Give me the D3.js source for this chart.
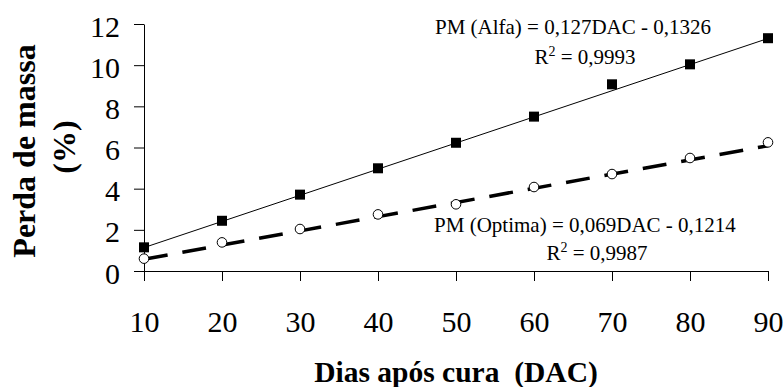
<!DOCTYPE html>
<html>
<head>
<meta charset="utf-8">
<script src="https://cdn.jsdelivr.net/npm/d3@7"></script>
</head>
<body style="margin:0">
<script>
// data
var dias = [10, 20, 30, 40, 50, 60, 70, 80, 90];
var alfa = [1.15, 2.44, 3.71, 4.99, 6.23, 7.50, 9.07, 10.04, 11.31];
var optima = [0.60, 1.39, 2.04, 2.75, 3.24, 4.08, 4.71, 5.49, 6.25];
// trend line coefficients (slope, intercept) as printed
var alfaFit = [0.127, -0.1326];
var optimaFit = [0.069, -0.1214];
var yTicks = [0, 2, 4, 6, 8, 10, 12];

var width = 784, height = 387;
var fontName = "Liberation Serif";

var svg = d3.select("body")
    .append("svg")
    .attr("width", width)
    .attr("height", height)
    .attr("font-family", fontName)
    .style("font-family", fontName);

var x = d3.scaleLinear().domain([10, 90]).range([144, 768]);
var y = d3.scaleLinear().domain([0, 12]).range([271, 24]);

// x axis
var xAxis = svg.append("g")
    .attr("transform", "translate(0," + y(0) + ")")
    .call(d3.axisBottom(x).tickValues(dias).tickSize(10).tickSizeOuter(0));
xAxis.selectAll("text")
    .attr("y", 61).attr("dy", 0);

// y axis
var yAxis = svg.append("g")
    .attr("transform", "translate(" + x(10) + ",0)")
    .call(d3.axisLeft(y).tickValues(yTicks).tickSize(10).tickSizeOuter(0).tickPadding(14));
yAxis.selectAll("text")
    .attr("dy", "0.4em");

xAxis.attr("font-family", fontName).attr("font-size", 30);
yAxis.attr("font-family", fontName).attr("font-size", 30);
svg.selectAll(".tick text").attr("fill", "#000");
svg.selectAll(".domain, .tick line").attr("stroke", "#000").attr("stroke-width", 1);

// trend lines
function fitLine(c) {
    return [[10, c[0] * 10 + c[1]], [90, c[0] * 90 + c[1]]];
}
var line = d3.line().x(function(d) { return x(d[0]); }).y(function(d) { return y(d[1]); });

svg.append("path")
    .datum(fitLine(alfaFit))
    .attr("d", line)
    .attr("fill", "none")
    .attr("stroke", "#000")
    .attr("stroke-width", 1);

svg.append("path")
    .datum(fitLine(optimaFit))
    .attr("d", line)
    .attr("fill", "none")
    .attr("stroke", "#000")
    .attr("stroke-width", 3.5)
    .attr("stroke-dasharray", "24,15");

// markers
svg.append("g").selectAll("rect")
    .data(dias)
    .enter().append("rect")
    .attr("x", function(d) { return x(d) - 5; })
    .attr("y", function(d, i) { return y(alfa[i]) - 5; })
    .attr("width", 10)
    .attr("height", 10)
    .attr("fill", "#000");

svg.append("g").selectAll("circle")
    .data(dias)
    .enter().append("circle")
    .attr("cx", function(d) { return x(d); })
    .attr("cy", function(d, i) { return y(optima[i]); })
    .attr("r", 4.8)
    .attr("fill", "#fff")
    .attr("stroke", "#000")
    .attr("stroke-width", 1);

// equations
function eq(cx, by, gap, label, r2) {
    svg.append("text")
        .attr("x", cx).attr("y", by)
        .attr("text-anchor", "middle")
        .attr("font-size", 21)
        .text(label);
    var t = svg.append("text")
        .attr("x", cx + 12).attr("y", by + gap)
        .attr("text-anchor", "middle")
        .attr("font-size", 21);
    t.append("tspan").text("R");
    t.append("tspan").attr("dy", -8).attr("font-size", 14).text("2");
    t.append("tspan").attr("dy", 8).text(" = " + r2);
}
eq(573, 34, 30, "PM (Alfa) = 0,127DAC - 0,1326", "0,9993");
eq(585, 232, 28, "PM (Optima) = 0,069DAC - 0,1214", "0,9987");

// axis titles
svg.append("text")
    .attr("x", 456).attr("y", 382)
    .attr("text-anchor", "middle")
    .attr("font-size", 29.5)
    .attr("font-weight", "bold")
    .attr("xml:space", "preserve")
    .text("Dias após cura  (DAC)");

var yt = svg.append("text")
    .attr("transform", "translate(35,151) rotate(-90)")
    .attr("text-anchor", "middle")
    .attr("font-size", 32)
    .attr("font-weight", "bold");
yt.append("tspan").attr("x", 0).attr("y", 0).text("Perda de massa");
yt.append("tspan").attr("x", 4).attr("y", 40).text("(%)");
</script>
</body>
</html>
